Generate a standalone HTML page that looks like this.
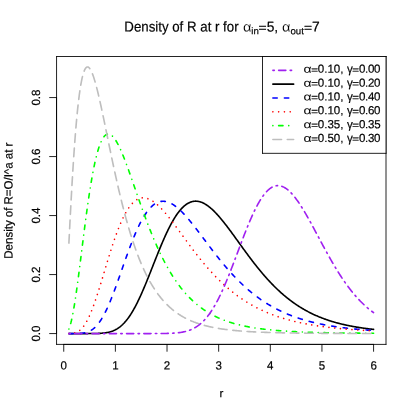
<!DOCTYPE html>
<html><head><meta charset="utf-8"><title>Density of R</title>
<style>html,body{margin:0;padding:0;background:#fff;width:415px;height:415px;overflow:hidden}svg{display:block}</style>
</head><body>
<svg width="415" height="415" viewBox="0 0 415 415" style="position:absolute;left:0;top:0">
<rect width="415" height="415" fill="#fff"/>
<g fill="none" stroke-width="1.620" stroke-linecap="round" stroke-linejoin="round">
<path d="M68.90 333.57 L69.42 333.57 L69.94 333.57 L70.45 333.57 L70.97 333.57 L71.49 333.57 L72.00 333.57 L72.52 333.57 L73.04 333.57 L73.55 333.57 L74.07 333.57 L74.58 333.57 L75.10 333.57 L75.62 333.57 L76.13 333.57 L76.65 333.57 L77.17 333.57 L77.68 333.57 L78.20 333.57 L78.72 333.57 L79.23 333.57 L79.75 333.57 L80.26 333.57 L80.78 333.57 L81.30 333.57 L81.81 333.57 L82.33 333.57 L82.85 333.57 L83.36 333.57 L83.88 333.57 L84.40 333.57 L84.91 333.57 L85.43 333.57 L85.95 333.57 L86.46 333.57 L86.98 333.57 L87.49 333.57 L88.01 333.57 L88.53 333.56 L89.04 333.56 L89.56 333.56 L90.08 333.56 L90.59 333.56 L91.11 333.55 L91.63 333.55 L92.14 333.55 L92.66 333.54 L93.17 333.54 L93.69 333.53 L94.21 333.52 L94.72 333.52 L95.24 333.51 L95.76 333.50 L96.27 333.48 L96.79 333.47 L97.31 333.46 L97.82 333.44 L98.34 333.42 L98.86 333.40 L99.37 333.37 L99.89 333.35 L100.40 333.32 L100.92 333.29 L101.44 333.25 L101.95 333.21 L102.47 333.17 L102.99 333.12 L103.50 333.07 L104.02 333.01 L104.54 332.95 L105.05 332.88 L105.57 332.81 L106.08 332.73 L106.60 332.64 L107.12 332.55 L107.63 332.45 L108.15 332.34 L108.67 332.22 L109.18 332.10 L109.70 331.96 L110.22 331.82 L110.73 331.67 L111.25 331.50 L111.77 331.33 L112.28 331.15 L112.80 330.95 L113.31 330.74 L113.83 330.52 L114.35 330.29 L114.86 330.05 L115.38 329.79 L115.90 329.51 L116.41 329.23 L116.93 328.93 L117.45 328.61 L117.96 328.28 L118.48 327.93 L118.99 327.56 L119.51 327.18 L120.03 326.79 L120.54 326.37 L121.06 325.94 L121.58 325.49 L122.09 325.02 L122.61 324.54 L123.13 324.03 L123.64 323.51 L124.16 322.97 L124.68 322.40 L125.19 321.82 L125.71 321.22 L126.22 320.60 L126.74 319.96 L127.26 319.30 L127.77 318.62 L128.29 317.93 L128.81 317.21 L129.32 316.47 L129.84 315.71 L130.36 314.93 L130.87 314.13 L131.39 313.31 L131.90 312.48 L132.42 311.62 L132.94 310.74 L133.45 309.85 L133.97 308.93 L134.49 308.00 L135.00 307.05 L135.52 306.08 L136.04 305.09 L136.55 304.09 L137.07 303.07 L137.59 302.03 L138.10 300.97 L138.62 299.90 L139.13 298.81 L139.65 297.71 L140.17 296.59 L140.68 295.46 L141.20 294.32 L141.72 293.16 L142.23 291.99 L142.75 290.80 L143.27 289.61 L143.78 288.40 L144.30 287.18 L144.81 285.95 L145.33 284.71 L145.85 283.47 L146.36 282.21 L146.88 280.95 L147.40 279.68 L147.91 278.40 L148.43 277.11 L148.95 275.83 L149.46 274.53 L149.98 273.23 L150.50 271.93 L151.01 270.63 L151.53 269.32 L152.04 268.01 L152.56 266.70 L153.08 265.39 L153.59 264.08 L154.11 262.77 L154.63 261.47 L155.14 260.16 L155.66 258.86 L156.18 257.56 L156.69 256.27 L157.21 254.98 L157.72 253.69 L158.24 252.41 L158.76 251.14 L159.27 249.88 L159.79 248.62 L160.31 247.37 L160.82 246.13 L161.34 244.90 L161.86 243.68 L162.37 242.47 L162.89 241.27 L163.41 240.08 L163.92 238.90 L164.44 237.73 L164.95 236.58 L165.47 235.44 L165.99 234.32 L166.50 233.21 L167.02 232.11 L167.54 231.03 L168.05 229.97 L168.57 228.92 L169.09 227.88 L169.60 226.87 L170.12 225.87 L170.63 224.88 L171.15 223.92 L171.67 222.97 L172.18 222.04 L172.70 221.13 L173.22 220.24 L173.73 219.36 L174.25 218.51 L174.77 217.67 L175.28 216.86 L175.80 216.06 L176.32 215.29 L176.83 214.53 L177.35 213.80 L177.86 213.08 L178.38 212.39 L178.90 211.71 L179.41 211.06 L179.93 210.43 L180.45 209.82 L180.96 209.23 L181.48 208.66 L182.00 208.11 L182.51 207.59 L183.03 207.08 L183.54 206.60 L184.06 206.13 L184.58 205.69 L185.09 205.27 L185.61 204.87 L186.13 204.49 L186.64 204.14 L187.16 203.80 L187.68 203.48 L188.19 203.19 L188.71 202.91 L189.23 202.66 L189.74 202.43 L190.26 202.22 L190.77 202.02 L191.29 201.85 L191.81 201.70 L192.32 201.57 L192.84 201.45 L193.36 201.36 L193.87 201.29 L194.39 201.23 L194.91 201.19 L195.42 201.18 L195.94 201.18 L196.45 201.20 L196.97 201.24 L197.49 201.29 L198.00 201.37 L198.52 201.46 L199.04 201.57 L199.55 201.69 L200.07 201.84 L200.59 202.00 L201.10 202.17 L201.62 202.36 L202.14 202.57 L202.65 202.80 L203.17 203.04 L203.68 203.29 L204.20 203.56 L204.72 203.84 L205.23 204.14 L205.75 204.46 L206.27 204.78 L206.78 205.12 L207.30 205.48 L207.82 205.84 L208.33 206.22 L208.85 206.61 L209.36 207.02 L209.88 207.44 L210.40 207.86 L210.91 208.31 L211.43 208.76 L211.95 209.22 L212.46 209.69 L212.98 210.18 L213.50 210.67 L214.01 211.17 L214.53 211.69 L215.05 212.21 L215.56 212.74 L216.08 213.29 L216.59 213.84 L217.11 214.40 L217.63 214.96 L218.14 215.54 L218.66 216.12 L219.18 216.71 L219.69 217.31 L220.21 217.91 L220.73 218.52 L221.24 219.14 L221.76 219.76 L222.27 220.39 L222.79 221.03 L223.31 221.67 L223.82 222.32 L224.34 222.97 L224.86 223.63 L225.37 224.29 L225.89 224.95 L226.41 225.62 L226.92 226.30 L227.44 226.98 L227.96 227.66 L228.47 228.34 L228.99 229.03 L229.50 229.72 L230.02 230.42 L230.54 231.11 L231.05 231.81 L231.57 232.52 L232.09 233.22 L232.60 233.93 L233.12 234.63 L233.64 235.34 L234.15 236.05 L234.67 236.76 L235.18 237.48 L235.70 238.19 L236.22 238.91 L236.73 239.62 L237.25 240.34 L237.77 241.05 L238.28 241.77 L238.80 242.48 L239.32 243.20 L239.83 243.92 L240.35 244.63 L240.87 245.35 L241.38 246.06 L241.90 246.77 L242.41 247.49 L242.93 248.20 L243.45 248.91 L243.96 249.62 L244.48 250.33 L245.00 251.03 L245.51 251.74 L246.03 252.44 L246.55 253.14 L247.06 253.84 L247.58 254.54 L248.09 255.23 L248.61 255.93 L249.13 256.62 L249.64 257.31 L250.16 257.99 L250.68 258.68 L251.19 259.36 L251.71 260.04 L252.23 260.71 L252.74 261.39 L253.26 262.06 L253.78 262.72 L254.29 263.39 L254.81 264.05 L255.32 264.71 L255.84 265.36 L256.36 266.01 L256.87 266.66 L257.39 267.30 L257.91 267.95 L258.42 268.58 L258.94 269.22 L259.46 269.85 L259.97 270.48 L260.49 271.10 L261.00 271.72 L261.52 272.34 L262.04 272.95 L262.55 273.56 L263.07 274.16 L263.59 274.77 L264.10 275.36 L264.62 275.96 L265.14 276.55 L265.65 277.13 L266.17 277.71 L266.69 278.29 L267.20 278.87 L267.72 279.43 L268.23 280.00 L268.75 280.56 L269.27 281.12 L269.78 281.67 L270.30 282.22 L270.82 282.77 L271.33 283.31 L271.85 283.85 L272.37 284.38 L272.88 284.91 L273.40 285.43 L273.91 285.95 L274.43 286.47 L274.95 286.98 L275.46 287.49 L275.98 287.99 L276.50 288.49 L277.01 288.99 L277.53 289.48 L278.05 289.97 L278.56 290.45 L279.08 290.93 L279.60 291.41 L280.11 291.88 L280.63 292.34 L281.14 292.81 L281.66 293.27 L282.18 293.72 L282.69 294.17 L283.21 294.62 L283.73 295.06 L284.24 295.50 L284.76 295.93 L285.28 296.36 L285.79 296.79 L286.31 297.21 L286.82 297.63 L287.34 298.04 L287.86 298.45 L288.37 298.86 L288.89 299.26 L289.41 299.66 L289.92 300.06 L290.44 300.45 L290.96 300.84 L291.47 301.22 L291.99 301.60 L292.51 301.98 L293.02 302.35 L293.54 302.72 L294.05 303.08 L294.57 303.44 L295.09 303.80 L295.60 304.16 L296.12 304.51 L296.64 304.85 L297.15 305.20 L297.67 305.54 L298.19 305.87 L298.70 306.21 L299.22 306.53 L299.73 306.86 L300.25 307.18 L300.77 307.50 L301.28 307.82 L301.80 308.13 L302.32 308.44 L302.83 308.74 L303.35 309.05 L303.87 309.35 L304.38 309.64 L304.90 309.93 L305.42 310.22 L305.93 310.51 L306.45 310.79 L306.96 311.07 L307.48 311.35 L308.00 311.63 L308.51 311.90 L309.03 312.16 L309.55 312.43 L310.06 312.69 L310.58 312.95 L311.10 313.21 L311.61 313.46 L312.13 313.71 L312.64 313.96 L313.16 314.20 L313.68 314.45 L314.19 314.68 L314.71 314.92 L315.23 315.16 L315.74 315.39 L316.26 315.62 L316.78 315.84 L317.29 316.06 L317.81 316.29 L318.33 316.50 L318.84 316.72 L319.36 316.93 L319.87 317.14 L320.39 317.35 L320.91 317.56 L321.42 317.76 L321.94 317.96 L322.46 318.16 L322.97 318.36 L323.49 318.55 L324.01 318.74 L324.52 318.93 L325.04 319.12 L325.55 319.30 L326.07 319.49 L326.59 319.67 L327.10 319.84 L327.62 320.02 L328.14 320.19 L328.65 320.37 L329.17 320.54 L329.69 320.70 L330.20 320.87 L330.72 321.03 L331.24 321.20 L331.75 321.36 L332.27 321.51 L332.78 321.67 L333.30 321.82 L333.82 321.98 L334.33 322.13 L334.85 322.27 L335.37 322.42 L335.88 322.57 L336.40 322.71 L336.92 322.85 L337.43 322.99 L337.95 323.13 L338.46 323.26 L338.98 323.40 L339.50 323.53 L340.01 323.66 L340.53 323.79 L341.05 323.92 L341.56 324.04 L342.08 324.17 L342.60 324.29 L343.11 324.41 L343.63 324.53 L344.15 324.65 L344.66 324.77 L345.18 324.88 L345.69 325.00 L346.21 325.11 L346.73 325.22 L347.24 325.33 L347.76 325.44 L348.28 325.55 L348.79 325.65 L349.31 325.76 L349.83 325.86 L350.34 325.96 L350.86 326.06 L351.37 326.16 L351.89 326.26 L352.41 326.36 L352.92 326.45 L353.44 326.55 L353.96 326.64 L354.47 326.73 L354.99 326.82 L355.51 326.91 L356.02 327.00 L356.54 327.09 L357.06 327.17 L357.57 327.26 L358.09 327.34 L358.60 327.42 L359.12 327.50 L359.64 327.58 L360.15 327.66 L360.67 327.74 L361.19 327.82 L361.70 327.90 L362.22 327.97 L362.74 328.05 L363.25 328.12 L363.77 328.19 L364.28 328.26 L364.80 328.33 L365.32 328.40 L365.83 328.47 L366.35 328.54 L366.87 328.61 L367.38 328.67 L367.90 328.74 L368.42 328.80 L368.93 328.87 L369.45 328.93 L369.97 328.99 L370.48 329.05 L371.00 329.11 L371.51 329.17 L372.03 329.23 L372.55 329.29 L373.06 329.35 L373.58 329.40" stroke="#000000"/>
<path d="M68.90 333.57 L69.42 333.57 L69.94 333.57 L70.45 333.57 L70.97 333.57 L71.49 333.57 L72.00 333.57 L72.52 333.57 L73.04 333.57 L73.55 333.56 L74.07 333.56 L74.58 333.56 L75.10 333.55 L75.62 333.55 L76.13 333.54 L76.65 333.53 L77.17 333.52 L77.68 333.50 L78.20 333.49 L78.72 333.47 L79.23 333.44 L79.75 333.41 L80.26 333.38 L80.78 333.34 L81.30 333.30 L81.81 333.25 L82.33 333.19 L82.85 333.12 L83.36 333.04 L83.88 332.96 L84.40 332.86 L84.91 332.76 L85.43 332.64 L85.95 332.51 L86.46 332.36 L86.98 332.20 L87.49 332.03 L88.01 331.84 L88.53 331.64 L89.04 331.41 L89.56 331.17 L90.08 330.91 L90.59 330.63 L91.11 330.33 L91.63 330.01 L92.14 329.66 L92.66 329.30 L93.17 328.91 L93.69 328.49 L94.21 328.06 L94.72 327.59 L95.24 327.11 L95.76 326.59 L96.27 326.05 L96.79 325.49 L97.31 324.89 L97.82 324.27 L98.34 323.63 L98.86 322.95 L99.37 322.25 L99.89 321.52 L100.40 320.76 L100.92 319.97 L101.44 319.16 L101.95 318.32 L102.47 317.45 L102.99 316.55 L103.50 315.63 L104.02 314.68 L104.54 313.70 L105.05 312.70 L105.57 311.67 L106.08 310.61 L106.60 309.53 L107.12 308.43 L107.63 307.30 L108.15 306.15 L108.67 304.97 L109.18 303.78 L109.70 302.56 L110.22 301.32 L110.73 300.06 L111.25 298.78 L111.77 297.49 L112.28 296.17 L112.80 294.84 L113.31 293.50 L113.83 292.14 L114.35 290.76 L114.86 289.37 L115.38 287.97 L115.90 286.56 L116.41 285.13 L116.93 283.70 L117.45 282.26 L117.96 280.81 L118.48 279.35 L118.99 277.89 L119.51 276.42 L120.03 274.95 L120.54 273.48 L121.06 272.00 L121.58 270.52 L122.09 269.04 L122.61 267.56 L123.13 266.09 L123.64 264.61 L124.16 263.14 L124.68 261.68 L125.19 260.21 L125.71 258.76 L126.22 257.31 L126.74 255.86 L127.26 254.43 L127.77 253.01 L128.29 251.59 L128.81 250.19 L129.32 248.79 L129.84 247.41 L130.36 246.04 L130.87 244.69 L131.39 243.34 L131.90 242.02 L132.42 240.70 L132.94 239.41 L133.45 238.13 L133.97 236.87 L134.49 235.62 L135.00 234.39 L135.52 233.18 L136.04 231.99 L136.55 230.82 L137.07 229.67 L137.59 228.54 L138.10 227.43 L138.62 226.34 L139.13 225.27 L139.65 224.23 L140.17 223.20 L140.68 222.20 L141.20 221.22 L141.72 220.26 L142.23 219.33 L142.75 218.42 L143.27 217.53 L143.78 216.67 L144.30 215.83 L144.81 215.01 L145.33 214.22 L145.85 213.45 L146.36 212.70 L146.88 211.98 L147.40 211.28 L147.91 210.61 L148.43 209.96 L148.95 209.34 L149.46 208.74 L149.98 208.16 L150.50 207.61 L151.01 207.08 L151.53 206.58 L152.04 206.10 L152.56 205.64 L153.08 205.21 L153.59 204.80 L154.11 204.41 L154.63 204.05 L155.14 203.71 L155.66 203.39 L156.18 203.10 L156.69 202.83 L157.21 202.58 L157.72 202.35 L158.24 202.15 L158.76 201.97 L159.27 201.81 L159.79 201.67 L160.31 201.55 L160.82 201.45 L161.34 201.37 L161.86 201.32 L162.37 201.28 L162.89 201.27 L163.41 201.27 L163.92 201.29 L164.44 201.33 L164.95 201.39 L165.47 201.47 L165.99 201.57 L166.50 201.69 L167.02 201.82 L167.54 201.97 L168.05 202.14 L168.57 202.32 L169.09 202.52 L169.60 202.74 L170.12 202.97 L170.63 203.22 L171.15 203.48 L171.67 203.76 L172.18 204.06 L172.70 204.36 L173.22 204.69 L173.73 205.02 L174.25 205.37 L174.77 205.73 L175.28 206.11 L175.80 206.50 L176.32 206.90 L176.83 207.31 L177.35 207.73 L177.86 208.17 L178.38 208.61 L178.90 209.07 L179.41 209.54 L179.93 210.02 L180.45 210.50 L180.96 211.00 L181.48 211.51 L182.00 212.02 L182.51 212.55 L183.03 213.08 L183.54 213.62 L184.06 214.17 L184.58 214.73 L185.09 215.30 L185.61 215.87 L186.13 216.45 L186.64 217.03 L187.16 217.63 L187.68 218.23 L188.19 218.83 L188.71 219.44 L189.23 220.06 L189.74 220.68 L190.26 221.30 L190.77 221.94 L191.29 222.57 L191.81 223.21 L192.32 223.86 L192.84 224.51 L193.36 225.16 L193.87 225.81 L194.39 226.47 L194.91 227.13 L195.42 227.80 L195.94 228.47 L196.45 229.14 L196.97 229.81 L197.49 230.49 L198.00 231.16 L198.52 231.84 L199.04 232.52 L199.55 233.21 L200.07 233.89 L200.59 234.57 L201.10 235.26 L201.62 235.95 L202.14 236.63 L202.65 237.32 L203.17 238.01 L203.68 238.70 L204.20 239.39 L204.72 240.08 L205.23 240.77 L205.75 241.45 L206.27 242.14 L206.78 242.83 L207.30 243.52 L207.82 244.20 L208.33 244.89 L208.85 245.57 L209.36 246.26 L209.88 246.94 L210.40 247.62 L210.91 248.30 L211.43 248.98 L211.95 249.65 L212.46 250.33 L212.98 251.00 L213.50 251.67 L214.01 252.34 L214.53 253.01 L215.05 253.67 L215.56 254.33 L216.08 254.99 L216.59 255.65 L217.11 256.31 L217.63 256.96 L218.14 257.61 L218.66 258.26 L219.18 258.90 L219.69 259.55 L220.21 260.19 L220.73 260.82 L221.24 261.46 L221.76 262.09 L222.27 262.72 L222.79 263.34 L223.31 263.96 L223.82 264.58 L224.34 265.20 L224.86 265.81 L225.37 266.42 L225.89 267.02 L226.41 267.63 L226.92 268.23 L227.44 268.82 L227.96 269.41 L228.47 270.00 L228.99 270.59 L229.50 271.17 L230.02 271.75 L230.54 272.32 L231.05 272.89 L231.57 273.46 L232.09 274.02 L232.60 274.58 L233.12 275.14 L233.64 275.69 L234.15 276.24 L234.67 276.79 L235.18 277.33 L235.70 277.86 L236.22 278.40 L236.73 278.93 L237.25 279.46 L237.77 279.98 L238.28 280.50 L238.80 281.01 L239.32 281.52 L239.83 282.03 L240.35 282.53 L240.87 283.03 L241.38 283.53 L241.90 284.02 L242.41 284.51 L242.93 285.00 L243.45 285.48 L243.96 285.96 L244.48 286.43 L245.00 286.90 L245.51 287.37 L246.03 287.83 L246.55 288.29 L247.06 288.74 L247.58 289.19 L248.09 289.64 L248.61 290.08 L249.13 290.52 L249.64 290.96 L250.16 291.39 L250.68 291.82 L251.19 292.25 L251.71 292.67 L252.23 293.09 L252.74 293.50 L253.26 293.91 L253.78 294.32 L254.29 294.73 L254.81 295.13 L255.32 295.52 L255.84 295.92 L256.36 296.31 L256.87 296.69 L257.39 297.07 L257.91 297.45 L258.42 297.83 L258.94 298.20 L259.46 298.57 L259.97 298.94 L260.49 299.30 L261.00 299.66 L261.52 300.01 L262.04 300.37 L262.55 300.72 L263.07 301.06 L263.59 301.40 L264.10 301.74 L264.62 302.08 L265.14 302.41 L265.65 302.74 L266.17 303.07 L266.69 303.39 L267.20 303.71 L267.72 304.03 L268.23 304.35 L268.75 304.66 L269.27 304.97 L269.78 305.27 L270.30 305.57 L270.82 305.87 L271.33 306.17 L271.85 306.46 L272.37 306.75 L272.88 307.04 L273.40 307.33 L273.91 307.61 L274.43 307.89 L274.95 308.17 L275.46 308.44 L275.98 308.71 L276.50 308.98 L277.01 309.24 L277.53 309.51 L278.05 309.77 L278.56 310.03 L279.08 310.28 L279.60 310.53 L280.11 310.78 L280.63 311.03 L281.14 311.28 L281.66 311.52 L282.18 311.76 L282.69 311.99 L283.21 312.23 L283.73 312.46 L284.24 312.69 L284.76 312.92 L285.28 313.15 L285.79 313.37 L286.31 313.59 L286.82 313.81 L287.34 314.02 L287.86 314.24 L288.37 314.45 L288.89 314.66 L289.41 314.87 L289.92 315.07 L290.44 315.28 L290.96 315.48 L291.47 315.67 L291.99 315.87 L292.51 316.07 L293.02 316.26 L293.54 316.45 L294.05 316.64 L294.57 316.82 L295.09 317.01 L295.60 317.19 L296.12 317.37 L296.64 317.55 L297.15 317.73 L297.67 317.90 L298.19 318.07 L298.70 318.24 L299.22 318.41 L299.73 318.58 L300.25 318.75 L300.77 318.91 L301.28 319.07 L301.80 319.23 L302.32 319.39 L302.83 319.55 L303.35 319.70 L303.87 319.86 L304.38 320.01 L304.90 320.16 L305.42 320.31 L305.93 320.45 L306.45 320.60 L306.96 320.74 L307.48 320.89 L308.00 321.03 L308.51 321.17 L309.03 321.30 L309.55 321.44 L310.06 321.57 L310.58 321.71 L311.10 321.84 L311.61 321.97 L312.13 322.10 L312.64 322.22 L313.16 322.35 L313.68 322.47 L314.19 322.60 L314.71 322.72 L315.23 322.84 L315.74 322.96 L316.26 323.08 L316.78 323.19 L317.29 323.31 L317.81 323.42 L318.33 323.54 L318.84 323.65 L319.36 323.76 L319.87 323.87 L320.39 323.97 L320.91 324.08 L321.42 324.19 L321.94 324.29 L322.46 324.39 L322.97 324.50 L323.49 324.60 L324.01 324.70 L324.52 324.79 L325.04 324.89 L325.55 324.99 L326.07 325.08 L326.59 325.18 L327.10 325.27 L327.62 325.36 L328.14 325.45 L328.65 325.54 L329.17 325.63 L329.69 325.72 L330.20 325.81 L330.72 325.89 L331.24 325.98 L331.75 326.06 L332.27 326.15 L332.78 326.23 L333.30 326.31 L333.82 326.39 L334.33 326.47 L334.85 326.55 L335.37 326.63 L335.88 326.70 L336.40 326.78 L336.92 326.86 L337.43 326.93 L337.95 327.00 L338.46 327.08 L338.98 327.15 L339.50 327.22 L340.01 327.29 L340.53 327.36 L341.05 327.43 L341.56 327.50 L342.08 327.56 L342.60 327.63 L343.11 327.70 L343.63 327.76 L344.15 327.82 L344.66 327.89 L345.18 327.95 L345.69 328.01 L346.21 328.07 L346.73 328.14 L347.24 328.20 L347.76 328.25 L348.28 328.31 L348.79 328.37 L349.31 328.43 L349.83 328.49 L350.34 328.54 L350.86 328.60 L351.37 328.65 L351.89 328.71 L352.41 328.76 L352.92 328.81 L353.44 328.86 L353.96 328.92 L354.47 328.97 L354.99 329.02 L355.51 329.07 L356.02 329.12 L356.54 329.17 L357.06 329.22 L357.57 329.26 L358.09 329.31 L358.60 329.36 L359.12 329.40 L359.64 329.45 L360.15 329.49 L360.67 329.54 L361.19 329.58 L361.70 329.63 L362.22 329.67 L362.74 329.71 L363.25 329.76 L363.77 329.80 L364.28 329.84 L364.80 329.88 L365.32 329.92 L365.83 329.96 L366.35 330.00 L366.87 330.04 L367.38 330.08 L367.90 330.11 L368.42 330.15 L368.93 330.19 L369.45 330.23 L369.97 330.26 L370.48 330.30 L371.00 330.33 L371.51 330.37 L372.03 330.40 L372.55 330.44 L373.06 330.47 L373.58 330.51" stroke="#0000FF" stroke-dasharray="4.323,7.205"/>
<path d="M68.90 333.55 L69.42 333.54 L69.94 333.52 L70.45 333.50 L70.97 333.47 L71.49 333.43 L72.00 333.38 L72.52 333.32 L73.04 333.25 L73.55 333.16 L74.07 333.06 L74.58 332.94 L75.10 332.79 L75.62 332.63 L76.13 332.44 L76.65 332.23 L77.17 331.99 L77.68 331.73 L78.20 331.43 L78.72 331.10 L79.23 330.75 L79.75 330.35 L80.26 329.93 L80.78 329.46 L81.30 328.96 L81.81 328.43 L82.33 327.85 L82.85 327.23 L83.36 326.58 L83.88 325.88 L84.40 325.15 L84.91 324.37 L85.43 323.55 L85.95 322.70 L86.46 321.80 L86.98 320.86 L87.49 319.88 L88.01 318.86 L88.53 317.80 L89.04 316.70 L89.56 315.57 L90.08 314.39 L90.59 313.18 L91.11 311.94 L91.63 310.66 L92.14 309.34 L92.66 307.99 L93.17 306.62 L93.69 305.21 L94.21 303.77 L94.72 302.30 L95.24 300.81 L95.76 299.29 L96.27 297.75 L96.79 296.18 L97.31 294.60 L97.82 292.99 L98.34 291.37 L98.86 289.73 L99.37 288.07 L99.89 286.40 L100.40 284.72 L100.92 283.03 L101.44 281.33 L101.95 279.62 L102.47 277.91 L102.99 276.19 L103.50 274.46 L104.02 272.74 L104.54 271.01 L105.05 269.28 L105.57 267.56 L106.08 265.84 L106.60 264.12 L107.12 262.41 L107.63 260.71 L108.15 259.02 L108.67 257.33 L109.18 255.66 L109.70 253.99 L110.22 252.34 L110.73 250.71 L111.25 249.09 L111.77 247.48 L112.28 245.90 L112.80 244.33 L113.31 242.77 L113.83 241.24 L114.35 239.73 L114.86 238.24 L115.38 236.77 L115.90 235.32 L116.41 233.90 L116.93 232.50 L117.45 231.12 L117.96 229.77 L118.48 228.45 L118.99 227.15 L119.51 225.88 L120.03 224.63 L120.54 223.41 L121.06 222.22 L121.58 221.05 L122.09 219.92 L122.61 218.81 L123.13 217.73 L123.64 216.68 L124.16 215.66 L124.68 214.67 L125.19 213.70 L125.71 212.77 L126.22 211.87 L126.74 210.99 L127.26 210.15 L127.77 209.33 L128.29 208.54 L128.81 207.78 L129.32 207.06 L129.84 206.36 L130.36 205.69 L130.87 205.05 L131.39 204.44 L131.90 203.85 L132.42 203.30 L132.94 202.77 L133.45 202.28 L133.97 201.81 L134.49 201.36 L135.00 200.95 L135.52 200.56 L136.04 200.20 L136.55 199.87 L137.07 199.56 L137.59 199.28 L138.10 199.03 L138.62 198.80 L139.13 198.59 L139.65 198.42 L140.17 198.26 L140.68 198.13 L141.20 198.03 L141.72 197.94 L142.23 197.88 L142.75 197.85 L143.27 197.83 L143.78 197.84 L144.30 197.87 L144.81 197.92 L145.33 197.99 L145.85 198.09 L146.36 198.20 L146.88 198.33 L147.40 198.49 L147.91 198.66 L148.43 198.85 L148.95 199.06 L149.46 199.28 L149.98 199.53 L150.50 199.79 L151.01 200.07 L151.53 200.36 L152.04 200.67 L152.56 201.00 L153.08 201.34 L153.59 201.70 L154.11 202.07 L154.63 202.46 L155.14 202.86 L155.66 203.27 L156.18 203.69 L156.69 204.13 L157.21 204.58 L157.72 205.05 L158.24 205.52 L158.76 206.01 L159.27 206.51 L159.79 207.01 L160.31 207.53 L160.82 208.06 L161.34 208.60 L161.86 209.14 L162.37 209.70 L162.89 210.27 L163.41 210.84 L163.92 211.42 L164.44 212.01 L164.95 212.61 L165.47 213.21 L165.99 213.82 L166.50 214.44 L167.02 215.06 L167.54 215.69 L168.05 216.33 L168.57 216.97 L169.09 217.62 L169.60 218.27 L170.12 218.93 L170.63 219.59 L171.15 220.25 L171.67 220.92 L172.18 221.60 L172.70 222.27 L173.22 222.95 L173.73 223.64 L174.25 224.32 L174.77 225.01 L175.28 225.70 L175.80 226.40 L176.32 227.10 L176.83 227.79 L177.35 228.49 L177.86 229.20 L178.38 229.90 L178.90 230.60 L179.41 231.31 L179.93 232.01 L180.45 232.72 L180.96 233.43 L181.48 234.14 L182.00 234.84 L182.51 235.55 L183.03 236.26 L183.54 236.97 L184.06 237.67 L184.58 238.38 L185.09 239.09 L185.61 239.79 L186.13 240.50 L186.64 241.20 L187.16 241.90 L187.68 242.61 L188.19 243.31 L188.71 244.00 L189.23 244.70 L189.74 245.40 L190.26 246.09 L190.77 246.78 L191.29 247.47 L191.81 248.16 L192.32 248.84 L192.84 249.53 L193.36 250.21 L193.87 250.89 L194.39 251.56 L194.91 252.24 L195.42 252.91 L195.94 253.58 L196.45 254.24 L196.97 254.90 L197.49 255.56 L198.00 256.22 L198.52 256.88 L199.04 257.53 L199.55 258.17 L200.07 258.82 L200.59 259.46 L201.10 260.10 L201.62 260.73 L202.14 261.37 L202.65 262.00 L203.17 262.62 L203.68 263.24 L204.20 263.86 L204.72 264.48 L205.23 265.09 L205.75 265.69 L206.27 266.30 L206.78 266.90 L207.30 267.50 L207.82 268.09 L208.33 268.68 L208.85 269.26 L209.36 269.85 L209.88 270.42 L210.40 271.00 L210.91 271.57 L211.43 272.14 L211.95 272.70 L212.46 273.26 L212.98 273.81 L213.50 274.37 L214.01 274.91 L214.53 275.46 L215.05 276.00 L215.56 276.53 L216.08 277.07 L216.59 277.60 L217.11 278.12 L217.63 278.64 L218.14 279.16 L218.66 279.67 L219.18 280.18 L219.69 280.69 L220.21 281.19 L220.73 281.69 L221.24 282.18 L221.76 282.67 L222.27 283.16 L222.79 283.64 L223.31 284.12 L223.82 284.59 L224.34 285.06 L224.86 285.53 L225.37 285.99 L225.89 286.45 L226.41 286.91 L226.92 287.36 L227.44 287.81 L227.96 288.25 L228.47 288.69 L228.99 289.13 L229.50 289.56 L230.02 289.99 L230.54 290.42 L231.05 290.84 L231.57 291.26 L232.09 291.68 L232.60 292.09 L233.12 292.50 L233.64 292.90 L234.15 293.30 L234.67 293.70 L235.18 294.10 L235.70 294.49 L236.22 294.87 L236.73 295.26 L237.25 295.64 L237.77 296.01 L238.28 296.39 L238.80 296.76 L239.32 297.13 L239.83 297.49 L240.35 297.85 L240.87 298.21 L241.38 298.56 L241.90 298.91 L242.41 299.26 L242.93 299.60 L243.45 299.94 L243.96 300.28 L244.48 300.61 L245.00 300.95 L245.51 301.27 L246.03 301.60 L246.55 301.92 L247.06 302.24 L247.58 302.56 L248.09 302.87 L248.61 303.18 L249.13 303.49 L249.64 303.79 L250.16 304.09 L250.68 304.39 L251.19 304.69 L251.71 304.98 L252.23 305.27 L252.74 305.56 L253.26 305.84 L253.78 306.12 L254.29 306.40 L254.81 306.68 L255.32 306.95 L255.84 307.22 L256.36 307.49 L256.87 307.76 L257.39 308.02 L257.91 308.28 L258.42 308.54 L258.94 308.79 L259.46 309.05 L259.97 309.30 L260.49 309.55 L261.00 309.79 L261.52 310.03 L262.04 310.27 L262.55 310.51 L263.07 310.75 L263.59 310.98 L264.10 311.21 L264.62 311.44 L265.14 311.67 L265.65 311.89 L266.17 312.11 L266.69 312.33 L267.20 312.55 L267.72 312.77 L268.23 312.98 L268.75 313.19 L269.27 313.40 L269.78 313.61 L270.30 313.81 L270.82 314.01 L271.33 314.22 L271.85 314.41 L272.37 314.61 L272.88 314.81 L273.40 315.00 L273.91 315.19 L274.43 315.38 L274.95 315.56 L275.46 315.75 L275.98 315.93 L276.50 316.11 L277.01 316.29 L277.53 316.47 L278.05 316.65 L278.56 316.82 L279.08 316.99 L279.60 317.16 L280.11 317.33 L280.63 317.50 L281.14 317.66 L281.66 317.83 L282.18 317.99 L282.69 318.15 L283.21 318.31 L283.73 318.46 L284.24 318.62 L284.76 318.77 L285.28 318.92 L285.79 319.07 L286.31 319.22 L286.82 319.37 L287.34 319.51 L287.86 319.66 L288.37 319.80 L288.89 319.94 L289.41 320.08 L289.92 320.22 L290.44 320.36 L290.96 320.49 L291.47 320.63 L291.99 320.76 L292.51 320.89 L293.02 321.02 L293.54 321.15 L294.05 321.28 L294.57 321.40 L295.09 321.53 L295.60 321.65 L296.12 321.77 L296.64 321.89 L297.15 322.01 L297.67 322.13 L298.19 322.25 L298.70 322.36 L299.22 322.48 L299.73 322.59 L300.25 322.70 L300.77 322.81 L301.28 322.92 L301.80 323.03 L302.32 323.14 L302.83 323.25 L303.35 323.35 L303.87 323.46 L304.38 323.56 L304.90 323.66 L305.42 323.76 L305.93 323.86 L306.45 323.96 L306.96 324.06 L307.48 324.16 L308.00 324.25 L308.51 324.35 L309.03 324.44 L309.55 324.53 L310.06 324.62 L310.58 324.72 L311.10 324.81 L311.61 324.89 L312.13 324.98 L312.64 325.07 L313.16 325.16 L313.68 325.24 L314.19 325.33 L314.71 325.41 L315.23 325.49 L315.74 325.57 L316.26 325.65 L316.78 325.73 L317.29 325.81 L317.81 325.89 L318.33 325.97 L318.84 326.05 L319.36 326.12 L319.87 326.20 L320.39 326.27 L320.91 326.35 L321.42 326.42 L321.94 326.49 L322.46 326.56 L322.97 326.63 L323.49 326.70 L324.01 326.77 L324.52 326.84 L325.04 326.91 L325.55 326.97 L326.07 327.04 L326.59 327.11 L327.10 327.17 L327.62 327.23 L328.14 327.30 L328.65 327.36 L329.17 327.42 L329.69 327.48 L330.20 327.55 L330.72 327.61 L331.24 327.67 L331.75 327.72 L332.27 327.78 L332.78 327.84 L333.30 327.90 L333.82 327.95 L334.33 328.01 L334.85 328.07 L335.37 328.12 L335.88 328.18 L336.40 328.23 L336.92 328.28 L337.43 328.33 L337.95 328.39 L338.46 328.44 L338.98 328.49 L339.50 328.54 L340.01 328.59 L340.53 328.64 L341.05 328.69 L341.56 328.74 L342.08 328.78 L342.60 328.83 L343.11 328.88 L343.63 328.92 L344.15 328.97 L344.66 329.02 L345.18 329.06 L345.69 329.10 L346.21 329.15 L346.73 329.19 L347.24 329.24 L347.76 329.28 L348.28 329.32 L348.79 329.36 L349.31 329.40 L349.83 329.44 L350.34 329.49 L350.86 329.53 L351.37 329.56 L351.89 329.60 L352.41 329.64 L352.92 329.68 L353.44 329.72 L353.96 329.76 L354.47 329.79 L354.99 329.83 L355.51 329.87 L356.02 329.90 L356.54 329.94 L357.06 329.97 L357.57 330.01 L358.09 330.04 L358.60 330.08 L359.12 330.11 L359.64 330.15 L360.15 330.18 L360.67 330.21 L361.19 330.25 L361.70 330.28 L362.22 330.31 L362.74 330.34 L363.25 330.37 L363.77 330.40 L364.28 330.43 L364.80 330.46 L365.32 330.49 L365.83 330.52 L366.35 330.55 L366.87 330.58 L367.38 330.61 L367.90 330.64 L368.42 330.67 L368.93 330.70 L369.45 330.72 L369.97 330.75 L370.48 330.78 L371.00 330.80 L371.51 330.83 L372.03 330.86 L372.55 330.88 L373.06 330.91 L373.58 330.93" stroke="#FF0000" stroke-dasharray="0.010,5.764"/>
<path d="M68.90 328.98 L69.42 327.63 L69.94 326.08 L70.45 324.34 L70.97 322.40 L71.49 320.27 L72.00 317.95 L72.52 315.45 L73.04 312.77 L73.55 309.93 L74.07 306.92 L74.58 303.77 L75.10 300.49 L75.62 297.07 L76.13 293.53 L76.65 289.89 L77.17 286.16 L77.68 282.33 L78.20 278.44 L78.72 274.48 L79.23 270.46 L79.75 266.40 L80.26 262.31 L80.78 258.20 L81.30 254.07 L81.81 249.93 L82.33 245.80 L82.85 241.68 L83.36 237.58 L83.88 233.51 L84.40 229.47 L84.91 225.47 L85.43 221.52 L85.95 217.62 L86.46 213.78 L86.98 210.00 L87.49 206.29 L88.01 202.65 L88.53 199.09 L89.04 195.62 L89.56 192.22 L90.08 188.91 L90.59 185.70 L91.11 182.57 L91.63 179.54 L92.14 176.60 L92.66 173.76 L93.17 171.03 L93.69 168.39 L94.21 165.85 L94.72 163.41 L95.24 161.08 L95.76 158.85 L96.27 156.72 L96.79 154.69 L97.31 152.77 L97.82 150.94 L98.34 149.22 L98.86 147.60 L99.37 146.07 L99.89 144.65 L100.40 143.32 L100.92 142.08 L101.44 140.94 L101.95 139.90 L102.47 138.95 L102.99 138.08 L103.50 137.31 L104.02 136.62 L104.54 136.02 L105.05 135.50 L105.57 135.06 L106.08 134.71 L106.60 134.43 L107.12 134.23 L107.63 134.10 L108.15 134.04 L108.67 134.06 L109.18 134.14 L109.70 134.29 L110.22 134.51 L110.73 134.79 L111.25 135.13 L111.77 135.53 L112.28 135.98 L112.80 136.49 L113.31 137.06 L113.83 137.68 L114.35 138.34 L114.86 139.06 L115.38 139.82 L115.90 140.63 L116.41 141.48 L116.93 142.37 L117.45 143.30 L117.96 144.26 L118.48 145.27 L118.99 146.31 L119.51 147.38 L120.03 148.48 L120.54 149.61 L121.06 150.77 L121.58 151.96 L122.09 153.18 L122.61 154.41 L123.13 155.67 L123.64 156.96 L124.16 158.26 L124.68 159.58 L125.19 160.92 L125.71 162.28 L126.22 163.65 L126.74 165.04 L127.26 166.44 L127.77 167.85 L128.29 169.28 L128.81 170.71 L129.32 172.15 L129.84 173.61 L130.36 175.07 L130.87 176.53 L131.39 178.00 L131.90 179.48 L132.42 180.96 L132.94 182.45 L133.45 183.93 L133.97 185.42 L134.49 186.91 L135.00 188.40 L135.52 189.89 L136.04 191.38 L136.55 192.87 L137.07 194.35 L137.59 195.84 L138.10 197.32 L138.62 198.80 L139.13 200.27 L139.65 201.74 L140.17 203.20 L140.68 204.66 L141.20 206.11 L141.72 207.56 L142.23 209.00 L142.75 210.43 L143.27 211.86 L143.78 213.28 L144.30 214.69 L144.81 216.09 L145.33 217.49 L145.85 218.87 L146.36 220.25 L146.88 221.62 L147.40 222.97 L147.91 224.32 L148.43 225.66 L148.95 226.99 L149.46 228.31 L149.98 229.62 L150.50 230.92 L151.01 232.20 L151.53 233.48 L152.04 234.75 L152.56 236.00 L153.08 237.25 L153.59 238.48 L154.11 239.70 L154.63 240.91 L155.14 242.11 L155.66 243.30 L156.18 244.48 L156.69 245.65 L157.21 246.80 L157.72 247.94 L158.24 249.07 L158.76 250.19 L159.27 251.30 L159.79 252.40 L160.31 253.48 L160.82 254.56 L161.34 255.62 L161.86 256.67 L162.37 257.71 L162.89 258.73 L163.41 259.75 L163.92 260.75 L164.44 261.75 L164.95 262.73 L165.47 263.70 L165.99 264.66 L166.50 265.61 L167.02 266.54 L167.54 267.47 L168.05 268.38 L168.57 269.29 L169.09 270.18 L169.60 271.06 L170.12 271.94 L170.63 272.80 L171.15 273.65 L171.67 274.49 L172.18 275.32 L172.70 276.14 L173.22 276.94 L173.73 277.74 L174.25 278.53 L174.77 279.31 L175.28 280.08 L175.80 280.84 L176.32 281.59 L176.83 282.32 L177.35 283.05 L177.86 283.77 L178.38 284.48 L178.90 285.19 L179.41 285.88 L179.93 286.56 L180.45 287.23 L180.96 287.90 L181.48 288.55 L182.00 289.20 L182.51 289.84 L183.03 290.47 L183.54 291.09 L184.06 291.70 L184.58 292.31 L185.09 292.90 L185.61 293.49 L186.13 294.07 L186.64 294.64 L187.16 295.21 L187.68 295.76 L188.19 296.31 L188.71 296.85 L189.23 297.38 L189.74 297.91 L190.26 298.43 L190.77 298.94 L191.29 299.44 L191.81 299.94 L192.32 300.43 L192.84 300.91 L193.36 301.39 L193.87 301.86 L194.39 302.32 L194.91 302.78 L195.42 303.23 L195.94 303.67 L196.45 304.11 L196.97 304.54 L197.49 304.96 L198.00 305.38 L198.52 305.79 L199.04 306.20 L199.55 306.60 L200.07 307.00 L200.59 307.39 L201.10 307.77 L201.62 308.15 L202.14 308.52 L202.65 308.89 L203.17 309.25 L203.68 309.60 L204.20 309.96 L204.72 310.30 L205.23 310.64 L205.75 310.98 L206.27 311.31 L206.78 311.64 L207.30 311.96 L207.82 312.28 L208.33 312.59 L208.85 312.90 L209.36 313.20 L209.88 313.50 L210.40 313.79 L210.91 314.08 L211.43 314.37 L211.95 314.65 L212.46 314.93 L212.98 315.20 L213.50 315.47 L214.01 315.73 L214.53 315.99 L215.05 316.25 L215.56 316.50 L216.08 316.75 L216.59 317.00 L217.11 317.24 L217.63 317.48 L218.14 317.72 L218.66 317.95 L219.18 318.18 L219.69 318.40 L220.21 318.62 L220.73 318.84 L221.24 319.06 L221.76 319.27 L222.27 319.48 L222.79 319.68 L223.31 319.89 L223.82 320.09 L224.34 320.28 L224.86 320.48 L225.37 320.67 L225.89 320.85 L226.41 321.04 L226.92 321.22 L227.44 321.40 L227.96 321.58 L228.47 321.75 L228.99 321.93 L229.50 322.09 L230.02 322.26 L230.54 322.43 L231.05 322.59 L231.57 322.75 L232.09 322.90 L232.60 323.06 L233.12 323.21 L233.64 323.36 L234.15 323.51 L234.67 323.65 L235.18 323.80 L235.70 323.94 L236.22 324.08 L236.73 324.21 L237.25 324.35 L237.77 324.48 L238.28 324.61 L238.80 324.74 L239.32 324.87 L239.83 324.99 L240.35 325.12 L240.87 325.24 L241.38 325.36 L241.90 325.48 L242.41 325.59 L242.93 325.71 L243.45 325.82 L243.96 325.93 L244.48 326.04 L245.00 326.15 L245.51 326.26 L246.03 326.36 L246.55 326.46 L247.06 326.56 L247.58 326.66 L248.09 326.76 L248.61 326.86 L249.13 326.96 L249.64 327.05 L250.16 327.14 L250.68 327.23 L251.19 327.32 L251.71 327.41 L252.23 327.50 L252.74 327.59 L253.26 327.67 L253.78 327.76 L254.29 327.84 L254.81 327.92 L255.32 328.00 L255.84 328.08 L256.36 328.16 L256.87 328.23 L257.39 328.31 L257.91 328.38 L258.42 328.45 L258.94 328.53 L259.46 328.60 L259.97 328.67 L260.49 328.74 L261.00 328.80 L261.52 328.87 L262.04 328.94 L262.55 329.00 L263.07 329.07 L263.59 329.13 L264.10 329.19 L264.62 329.25 L265.14 329.31 L265.65 329.37 L266.17 329.43 L266.69 329.49 L267.20 329.55 L267.72 329.60 L268.23 329.66 L268.75 329.71 L269.27 329.76 L269.78 329.82 L270.30 329.87 L270.82 329.92 L271.33 329.97 L271.85 330.02 L272.37 330.07 L272.88 330.12 L273.40 330.17 L273.91 330.21 L274.43 330.26 L274.95 330.30 L275.46 330.35 L275.98 330.39 L276.50 330.44 L277.01 330.48 L277.53 330.52 L278.05 330.57 L278.56 330.61 L279.08 330.65 L279.60 330.69 L280.11 330.73 L280.63 330.77 L281.14 330.80 L281.66 330.84 L282.18 330.88 L282.69 330.92 L283.21 330.95 L283.73 330.99 L284.24 331.02 L284.76 331.06 L285.28 331.09 L285.79 331.12 L286.31 331.16 L286.82 331.19 L287.34 331.22 L287.86 331.25 L288.37 331.29 L288.89 331.32 L289.41 331.35 L289.92 331.38 L290.44 331.41 L290.96 331.44 L291.47 331.46 L291.99 331.49 L292.51 331.52 L293.02 331.55 L293.54 331.57 L294.05 331.60 L294.57 331.63 L295.09 331.65 L295.60 331.68 L296.12 331.70 L296.64 331.73 L297.15 331.75 L297.67 331.78 L298.19 331.80 L298.70 331.83 L299.22 331.85 L299.73 331.87 L300.25 331.89 L300.77 331.92 L301.28 331.94 L301.80 331.96 L302.32 331.98 L302.83 332.00 L303.35 332.02 L303.87 332.04 L304.38 332.06 L304.90 332.08 L305.42 332.10 L305.93 332.12 L306.45 332.14 L306.96 332.16 L307.48 332.18 L308.00 332.20 L308.51 332.21 L309.03 332.23 L309.55 332.25 L310.06 332.27 L310.58 332.28 L311.10 332.30 L311.61 332.32 L312.13 332.33 L312.64 332.35 L313.16 332.37 L313.68 332.38 L314.19 332.40 L314.71 332.41 L315.23 332.43 L315.74 332.44 L316.26 332.46 L316.78 332.47 L317.29 332.48 L317.81 332.50 L318.33 332.51 L318.84 332.53 L319.36 332.54 L319.87 332.55 L320.39 332.57 L320.91 332.58 L321.42 332.59 L321.94 332.60 L322.46 332.62 L322.97 332.63 L323.49 332.64 L324.01 332.65 L324.52 332.66 L325.04 332.68 L325.55 332.69 L326.07 332.70 L326.59 332.71 L327.10 332.72 L327.62 332.73 L328.14 332.74 L328.65 332.75 L329.17 332.76 L329.69 332.77 L330.20 332.78 L330.72 332.79 L331.24 332.80 L331.75 332.81 L332.27 332.82 L332.78 332.83 L333.30 332.84 L333.82 332.85 L334.33 332.86 L334.85 332.87 L335.37 332.88 L335.88 332.88 L336.40 332.89 L336.92 332.90 L337.43 332.91 L337.95 332.92 L338.46 332.93 L338.98 332.93 L339.50 332.94 L340.01 332.95 L340.53 332.96 L341.05 332.97 L341.56 332.97 L342.08 332.98 L342.60 332.99 L343.11 332.99 L343.63 333.00 L344.15 333.01 L344.66 333.02 L345.18 333.02 L345.69 333.03 L346.21 333.04 L346.73 333.04 L347.24 333.05 L347.76 333.06 L348.28 333.06 L348.79 333.07 L349.31 333.07 L349.83 333.08 L350.34 333.09 L350.86 333.09 L351.37 333.10 L351.89 333.10 L352.41 333.11 L352.92 333.12 L353.44 333.12 L353.96 333.13 L354.47 333.13 L354.99 333.14 L355.51 333.14 L356.02 333.15 L356.54 333.15 L357.06 333.16 L357.57 333.16 L358.09 333.17 L358.60 333.17 L359.12 333.18 L359.64 333.18 L360.15 333.19 L360.67 333.19 L361.19 333.20 L361.70 333.20 L362.22 333.20 L362.74 333.21 L363.25 333.21 L363.77 333.22 L364.28 333.22 L364.80 333.23 L365.32 333.23 L365.83 333.23 L366.35 333.24 L366.87 333.24 L367.38 333.25 L367.90 333.25 L368.42 333.25 L368.93 333.26 L369.45 333.26 L369.97 333.26 L370.48 333.27 L371.00 333.27 L371.51 333.28 L372.03 333.28 L372.55 333.28 L373.06 333.29 L373.58 333.29" stroke="#00FF00" stroke-dasharray="0.010,5.764,4.323,5.764"/>
<path d="M68.90 243.11 L69.42 232.74 L69.94 222.57 L70.45 212.65 L70.97 202.99 L71.49 193.63 L72.00 184.60 L72.52 175.90 L73.04 167.55 L73.55 159.55 L74.07 151.92 L74.58 144.66 L75.10 137.76 L75.62 131.23 L76.13 125.06 L76.65 119.25 L77.17 113.79 L77.68 108.69 L78.20 103.93 L78.72 99.50 L79.23 95.40 L79.75 91.61 L80.26 88.14 L80.78 84.97 L81.30 82.09 L81.81 79.50 L82.33 77.18 L82.85 75.12 L83.36 73.32 L83.88 71.76 L84.40 70.44 L84.91 69.35 L85.43 68.47 L85.95 67.80 L86.46 67.34 L86.98 67.06 L87.49 66.97 L88.01 67.05 L88.53 67.30 L89.04 67.71 L89.56 68.26 L90.08 68.97 L90.59 69.80 L91.11 70.77 L91.63 71.86 L92.14 73.07 L92.66 74.38 L93.17 75.80 L93.69 77.31 L94.21 78.92 L94.72 80.61 L95.24 82.38 L95.76 84.22 L96.27 86.14 L96.79 88.12 L97.31 90.16 L97.82 92.26 L98.34 94.41 L98.86 96.60 L99.37 98.84 L99.89 101.12 L100.40 103.44 L100.92 105.78 L101.44 108.16 L101.95 110.57 L102.47 112.99 L102.99 115.44 L103.50 117.91 L104.02 120.39 L104.54 122.88 L105.05 125.38 L105.57 127.89 L106.08 130.41 L106.60 132.93 L107.12 135.45 L107.63 137.97 L108.15 140.49 L108.67 143.01 L109.18 145.52 L109.70 148.02 L110.22 150.52 L110.73 153.01 L111.25 155.48 L111.77 157.95 L112.28 160.40 L112.80 162.84 L113.31 165.26 L113.83 167.67 L114.35 170.06 L114.86 172.43 L115.38 174.78 L115.90 177.12 L116.41 179.44 L116.93 181.73 L117.45 184.01 L117.96 186.26 L118.48 188.50 L118.99 190.71 L119.51 192.90 L120.03 195.07 L120.54 197.21 L121.06 199.33 L121.58 201.43 L122.09 203.50 L122.61 205.55 L123.13 207.58 L123.64 209.58 L124.16 211.56 L124.68 213.51 L125.19 215.44 L125.71 217.34 L126.22 219.23 L126.74 221.08 L127.26 222.91 L127.77 224.72 L128.29 226.51 L128.81 228.26 L129.32 230.00 L129.84 231.71 L130.36 233.40 L130.87 235.06 L131.39 236.70 L131.90 238.32 L132.42 239.91 L132.94 241.48 L133.45 243.03 L133.97 244.55 L134.49 246.06 L135.00 247.54 L135.52 248.99 L136.04 250.43 L136.55 251.84 L137.07 253.23 L137.59 254.60 L138.10 255.95 L138.62 257.28 L139.13 258.58 L139.65 259.87 L140.17 261.14 L140.68 262.38 L141.20 263.61 L141.72 264.81 L142.23 266.00 L142.75 267.17 L143.27 268.32 L143.78 269.45 L144.30 270.56 L144.81 271.65 L145.33 272.73 L145.85 273.79 L146.36 274.83 L146.88 275.85 L147.40 276.85 L147.91 277.84 L148.43 278.82 L148.95 279.77 L149.46 280.71 L149.98 281.64 L150.50 282.54 L151.01 283.44 L151.53 284.32 L152.04 285.18 L152.56 286.03 L153.08 286.86 L153.59 287.68 L154.11 288.49 L154.63 289.28 L155.14 290.05 L155.66 290.82 L156.18 291.57 L156.69 292.31 L157.21 293.03 L157.72 293.75 L158.24 294.45 L158.76 295.14 L159.27 295.81 L159.79 296.48 L160.31 297.13 L160.82 297.77 L161.34 298.40 L161.86 299.02 L162.37 299.63 L162.89 300.22 L163.41 300.81 L163.92 301.39 L164.44 301.95 L164.95 302.51 L165.47 303.06 L165.99 303.59 L166.50 304.12 L167.02 304.64 L167.54 305.15 L168.05 305.65 L168.57 306.14 L169.09 306.62 L169.60 307.09 L170.12 307.56 L170.63 308.01 L171.15 308.46 L171.67 308.90 L172.18 309.34 L172.70 309.76 L173.22 310.18 L173.73 310.59 L174.25 310.99 L174.77 311.39 L175.28 311.78 L175.80 312.16 L176.32 312.53 L176.83 312.90 L177.35 313.26 L177.86 313.62 L178.38 313.97 L178.90 314.31 L179.41 314.64 L179.93 314.97 L180.45 315.30 L180.96 315.62 L181.48 315.93 L182.00 316.24 L182.51 316.54 L183.03 316.83 L183.54 317.13 L184.06 317.41 L184.58 317.69 L185.09 317.97 L185.61 318.24 L186.13 318.50 L186.64 318.76 L187.16 319.02 L187.68 319.27 L188.19 319.52 L188.71 319.76 L189.23 320.00 L189.74 320.24 L190.26 320.47 L190.77 320.69 L191.29 320.91 L191.81 321.13 L192.32 321.35 L192.84 321.56 L193.36 321.76 L193.87 321.97 L194.39 322.16 L194.91 322.36 L195.42 322.55 L195.94 322.74 L196.45 322.93 L196.97 323.11 L197.49 323.29 L198.00 323.46 L198.52 323.64 L199.04 323.80 L199.55 323.97 L200.07 324.13 L200.59 324.29 L201.10 324.45 L201.62 324.61 L202.14 324.76 L202.65 324.91 L203.17 325.06 L203.68 325.20 L204.20 325.34 L204.72 325.48 L205.23 325.62 L205.75 325.75 L206.27 325.88 L206.78 326.01 L207.30 326.14 L207.82 326.27 L208.33 326.39 L208.85 326.51 L209.36 326.63 L209.88 326.74 L210.40 326.86 L210.91 326.97 L211.43 327.08 L211.95 327.19 L212.46 327.30 L212.98 327.40 L213.50 327.50 L214.01 327.60 L214.53 327.70 L215.05 327.80 L215.56 327.90 L216.08 327.99 L216.59 328.08 L217.11 328.17 L217.63 328.26 L218.14 328.35 L218.66 328.44 L219.18 328.52 L219.69 328.61 L220.21 328.69 L220.73 328.77 L221.24 328.85 L221.76 328.93 L222.27 329.00 L222.79 329.08 L223.31 329.15 L223.82 329.22 L224.34 329.29 L224.86 329.36 L225.37 329.43 L225.89 329.50 L226.41 329.57 L226.92 329.63 L227.44 329.70 L227.96 329.76 L228.47 329.82 L228.99 329.88 L229.50 329.94 L230.02 330.00 L230.54 330.06 L231.05 330.11 L231.57 330.17 L232.09 330.22 L232.60 330.28 L233.12 330.33 L233.64 330.38 L234.15 330.43 L234.67 330.49 L235.18 330.53 L235.70 330.58 L236.22 330.63 L236.73 330.68 L237.25 330.72 L237.77 330.77 L238.28 330.81 L238.80 330.86 L239.32 330.90 L239.83 330.94 L240.35 330.99 L240.87 331.03 L241.38 331.07 L241.90 331.11 L242.41 331.15 L242.93 331.18 L243.45 331.22 L243.96 331.26 L244.48 331.30 L245.00 331.33 L245.51 331.37 L246.03 331.40 L246.55 331.43 L247.06 331.47 L247.58 331.50 L248.09 331.53 L248.61 331.57 L249.13 331.60 L249.64 331.63 L250.16 331.66 L250.68 331.69 L251.19 331.72 L251.71 331.75 L252.23 331.77 L252.74 331.80 L253.26 331.83 L253.78 331.86 L254.29 331.88 L254.81 331.91 L255.32 331.93 L255.84 331.96 L256.36 331.98 L256.87 332.01 L257.39 332.03 L257.91 332.06 L258.42 332.08 L258.94 332.10 L259.46 332.12 L259.97 332.15 L260.49 332.17 L261.00 332.19 L261.52 332.21 L262.04 332.23 L262.55 332.25 L263.07 332.27 L263.59 332.29 L264.10 332.31 L264.62 332.33 L265.14 332.35 L265.65 332.37 L266.17 332.39 L266.69 332.40 L267.20 332.42 L267.72 332.44 L268.23 332.46 L268.75 332.47 L269.27 332.49 L269.78 332.51 L270.30 332.52 L270.82 332.54 L271.33 332.55 L271.85 332.57 L272.37 332.58 L272.88 332.60 L273.40 332.61 L273.91 332.63 L274.43 332.64 L274.95 332.65 L275.46 332.67 L275.98 332.68 L276.50 332.69 L277.01 332.71 L277.53 332.72 L278.05 332.73 L278.56 332.74 L279.08 332.76 L279.60 332.77 L280.11 332.78 L280.63 332.79 L281.14 332.80 L281.66 332.81 L282.18 332.83 L282.69 332.84 L283.21 332.85 L283.73 332.86 L284.24 332.87 L284.76 332.88 L285.28 332.89 L285.79 332.90 L286.31 332.91 L286.82 332.92 L287.34 332.93 L287.86 332.94 L288.37 332.95 L288.89 332.95 L289.41 332.96 L289.92 332.97 L290.44 332.98 L290.96 332.99 L291.47 333.00 L291.99 333.01 L292.51 333.01 L293.02 333.02 L293.54 333.03 L294.05 333.04 L294.57 333.04 L295.09 333.05 L295.60 333.06 L296.12 333.07 L296.64 333.07 L297.15 333.08 L297.67 333.09 L298.19 333.09 L298.70 333.10 L299.22 333.11 L299.73 333.11 L300.25 333.12 L300.77 333.13 L301.28 333.13 L301.80 333.14 L302.32 333.15 L302.83 333.15 L303.35 333.16 L303.87 333.16 L304.38 333.17 L304.90 333.17 L305.42 333.18 L305.93 333.19 L306.45 333.19 L306.96 333.20 L307.48 333.20 L308.00 333.21 L308.51 333.21 L309.03 333.22 L309.55 333.22 L310.06 333.23 L310.58 333.23 L311.10 333.24 L311.61 333.24 L312.13 333.25 L312.64 333.25 L313.16 333.25 L313.68 333.26 L314.19 333.26 L314.71 333.27 L315.23 333.27 L315.74 333.27 L316.26 333.28 L316.78 333.28 L317.29 333.29 L317.81 333.29 L318.33 333.29 L318.84 333.30 L319.36 333.30 L319.87 333.31 L320.39 333.31 L320.91 333.31 L321.42 333.32 L321.94 333.32 L322.46 333.32 L322.97 333.33 L323.49 333.33 L324.01 333.33 L324.52 333.34 L325.04 333.34 L325.55 333.34 L326.07 333.35 L326.59 333.35 L327.10 333.35 L327.62 333.35 L328.14 333.36 L328.65 333.36 L329.17 333.36 L329.69 333.37 L330.20 333.37 L330.72 333.37 L331.24 333.37 L331.75 333.38 L332.27 333.38 L332.78 333.38 L333.30 333.38 L333.82 333.39 L334.33 333.39 L334.85 333.39 L335.37 333.39 L335.88 333.40 L336.40 333.40 L336.92 333.40 L337.43 333.40 L337.95 333.40 L338.46 333.41 L338.98 333.41 L339.50 333.41 L340.01 333.41 L340.53 333.42 L341.05 333.42 L341.56 333.42 L342.08 333.42 L342.60 333.42 L343.11 333.42 L343.63 333.43 L344.15 333.43 L344.66 333.43 L345.18 333.43 L345.69 333.43 L346.21 333.44 L346.73 333.44 L347.24 333.44 L347.76 333.44 L348.28 333.44 L348.79 333.44 L349.31 333.45 L349.83 333.45 L350.34 333.45 L350.86 333.45 L351.37 333.45 L351.89 333.45 L352.41 333.46 L352.92 333.46 L353.44 333.46 L353.96 333.46 L354.47 333.46 L354.99 333.46 L355.51 333.46 L356.02 333.46 L356.54 333.47 L357.06 333.47 L357.57 333.47 L358.09 333.47 L358.60 333.47 L359.12 333.47 L359.64 333.47 L360.15 333.47 L360.67 333.48 L361.19 333.48 L361.70 333.48 L362.22 333.48 L362.74 333.48 L363.25 333.48 L363.77 333.48 L364.28 333.48 L364.80 333.49 L365.32 333.49 L365.83 333.49 L366.35 333.49 L366.87 333.49 L367.38 333.49 L367.90 333.49 L368.42 333.49 L368.93 333.49 L369.45 333.49 L369.97 333.50 L370.48 333.50 L371.00 333.50 L371.51 333.50 L372.03 333.50 L372.55 333.50 L373.06 333.50 L373.58 333.50" stroke="#BEBEBE" stroke-dasharray="8.646,5.764"/>
<path d="M68.90 333.57 L69.42 333.57 L69.94 333.57 L70.45 333.57 L70.97 333.57 L71.49 333.57 L72.00 333.57 L72.52 333.57 L73.04 333.57 L73.55 333.57 L74.07 333.57 L74.58 333.57 L75.10 333.57 L75.62 333.57 L76.13 333.57 L76.65 333.57 L77.17 333.57 L77.68 333.57 L78.20 333.57 L78.72 333.57 L79.23 333.57 L79.75 333.57 L80.26 333.57 L80.78 333.57 L81.30 333.57 L81.81 333.57 L82.33 333.57 L82.85 333.57 L83.36 333.57 L83.88 333.57 L84.40 333.57 L84.91 333.57 L85.43 333.57 L85.95 333.57 L86.46 333.57 L86.98 333.57 L87.49 333.57 L88.01 333.57 L88.53 333.57 L89.04 333.57 L89.56 333.57 L90.08 333.57 L90.59 333.57 L91.11 333.57 L91.63 333.57 L92.14 333.57 L92.66 333.57 L93.17 333.57 L93.69 333.57 L94.21 333.57 L94.72 333.57 L95.24 333.57 L95.76 333.57 L96.27 333.57 L96.79 333.57 L97.31 333.57 L97.82 333.57 L98.34 333.57 L98.86 333.57 L99.37 333.57 L99.89 333.57 L100.40 333.57 L100.92 333.57 L101.44 333.57 L101.95 333.57 L102.47 333.57 L102.99 333.57 L103.50 333.57 L104.02 333.57 L104.54 333.57 L105.05 333.57 L105.57 333.57 L106.08 333.57 L106.60 333.57 L107.12 333.57 L107.63 333.57 L108.15 333.57 L108.67 333.57 L109.18 333.57 L109.70 333.57 L110.22 333.57 L110.73 333.57 L111.25 333.57 L111.77 333.57 L112.28 333.57 L112.80 333.57 L113.31 333.57 L113.83 333.57 L114.35 333.57 L114.86 333.57 L115.38 333.57 L115.90 333.57 L116.41 333.57 L116.93 333.57 L117.45 333.57 L117.96 333.57 L118.48 333.57 L118.99 333.57 L119.51 333.57 L120.03 333.57 L120.54 333.57 L121.06 333.57 L121.58 333.57 L122.09 333.57 L122.61 333.57 L123.13 333.57 L123.64 333.57 L124.16 333.57 L124.68 333.57 L125.19 333.57 L125.71 333.57 L126.22 333.57 L126.74 333.57 L127.26 333.57 L127.77 333.57 L128.29 333.57 L128.81 333.57 L129.32 333.57 L129.84 333.57 L130.36 333.57 L130.87 333.57 L131.39 333.57 L131.90 333.57 L132.42 333.57 L132.94 333.57 L133.45 333.57 L133.97 333.57 L134.49 333.57 L135.00 333.57 L135.52 333.57 L136.04 333.57 L136.55 333.57 L137.07 333.57 L137.59 333.57 L138.10 333.57 L138.62 333.57 L139.13 333.57 L139.65 333.57 L140.17 333.57 L140.68 333.57 L141.20 333.57 L141.72 333.57 L142.23 333.57 L142.75 333.57 L143.27 333.57 L143.78 333.57 L144.30 333.57 L144.81 333.57 L145.33 333.57 L145.85 333.57 L146.36 333.57 L146.88 333.57 L147.40 333.57 L147.91 333.57 L148.43 333.57 L148.95 333.57 L149.46 333.57 L149.98 333.57 L150.50 333.57 L151.01 333.56 L151.53 333.56 L152.04 333.56 L152.56 333.56 L153.08 333.56 L153.59 333.56 L154.11 333.56 L154.63 333.56 L155.14 333.56 L155.66 333.55 L156.18 333.55 L156.69 333.55 L157.21 333.55 L157.72 333.55 L158.24 333.54 L158.76 333.54 L159.27 333.54 L159.79 333.53 L160.31 333.53 L160.82 333.52 L161.34 333.52 L161.86 333.51 L162.37 333.51 L162.89 333.50 L163.41 333.50 L163.92 333.49 L164.44 333.48 L164.95 333.47 L165.47 333.46 L165.99 333.45 L166.50 333.44 L167.02 333.43 L167.54 333.41 L168.05 333.40 L168.57 333.38 L169.09 333.36 L169.60 333.35 L170.12 333.33 L170.63 333.30 L171.15 333.28 L171.67 333.26 L172.18 333.23 L172.70 333.20 L173.22 333.17 L173.73 333.14 L174.25 333.10 L174.77 333.06 L175.28 333.02 L175.80 332.98 L176.32 332.93 L176.83 332.89 L177.35 332.83 L177.86 332.78 L178.38 332.72 L178.90 332.66 L179.41 332.59 L179.93 332.52 L180.45 332.44 L180.96 332.37 L181.48 332.28 L182.00 332.19 L182.51 332.10 L183.03 332.00 L183.54 331.89 L184.06 331.78 L184.58 331.67 L185.09 331.55 L185.61 331.42 L186.13 331.28 L186.64 331.14 L187.16 330.99 L187.68 330.83 L188.19 330.67 L188.71 330.49 L189.23 330.31 L189.74 330.12 L190.26 329.92 L190.77 329.72 L191.29 329.50 L191.81 329.27 L192.32 329.04 L192.84 328.79 L193.36 328.53 L193.87 328.27 L194.39 327.99 L194.91 327.70 L195.42 327.40 L195.94 327.08 L196.45 326.76 L196.97 326.42 L197.49 326.07 L198.00 325.70 L198.52 325.33 L199.04 324.94 L199.55 324.53 L200.07 324.11 L200.59 323.68 L201.10 323.24 L201.62 322.77 L202.14 322.30 L202.65 321.81 L203.17 321.30 L203.68 320.78 L204.20 320.24 L204.72 319.68 L205.23 319.11 L205.75 318.53 L206.27 317.92 L206.78 317.30 L207.30 316.67 L207.82 316.01 L208.33 315.34 L208.85 314.65 L209.36 313.95 L209.88 313.22 L210.40 312.48 L210.91 311.73 L211.43 310.95 L211.95 310.16 L212.46 309.35 L212.98 308.52 L213.50 307.68 L214.01 306.81 L214.53 305.93 L215.05 305.04 L215.56 304.12 L216.08 303.19 L216.59 302.24 L217.11 301.28 L217.63 300.29 L218.14 299.29 L218.66 298.28 L219.18 297.24 L219.69 296.20 L220.21 295.13 L220.73 294.05 L221.24 292.96 L221.76 291.84 L222.27 290.72 L222.79 289.58 L223.31 288.42 L223.82 287.26 L224.34 286.07 L224.86 284.88 L225.37 283.67 L225.89 282.45 L226.41 281.22 L226.92 279.97 L227.44 278.72 L227.96 277.45 L228.47 276.17 L228.99 274.88 L229.50 273.59 L230.02 272.28 L230.54 270.97 L231.05 269.65 L231.57 268.32 L232.09 266.98 L232.60 265.64 L233.12 264.29 L233.64 262.94 L234.15 261.58 L234.67 260.21 L235.18 258.85 L235.70 257.48 L236.22 256.11 L236.73 254.73 L237.25 253.36 L237.77 251.98 L238.28 250.61 L238.80 249.23 L239.32 247.86 L239.83 246.48 L240.35 245.11 L240.87 243.75 L241.38 242.38 L241.90 241.03 L242.41 239.67 L242.93 238.32 L243.45 236.98 L243.96 235.65 L244.48 234.32 L245.00 233.00 L245.51 231.68 L246.03 230.38 L246.55 229.09 L247.06 227.80 L247.58 226.53 L248.09 225.27 L248.61 224.02 L249.13 222.79 L249.64 221.56 L250.16 220.35 L250.68 219.16 L251.19 217.98 L251.71 216.81 L252.23 215.66 L252.74 214.53 L253.26 213.41 L253.78 212.31 L254.29 211.23 L254.81 210.16 L255.32 209.11 L255.84 208.09 L256.36 207.08 L256.87 206.09 L257.39 205.12 L257.91 204.17 L258.42 203.25 L258.94 202.34 L259.46 201.46 L259.97 200.60 L260.49 199.76 L261.00 198.94 L261.52 198.14 L262.04 197.37 L262.55 196.62 L263.07 195.90 L263.59 195.19 L264.10 194.52 L264.62 193.86 L265.14 193.23 L265.65 192.63 L266.17 192.05 L266.69 191.49 L267.20 190.96 L267.72 190.46 L268.23 189.98 L268.75 189.52 L269.27 189.09 L269.78 188.69 L270.30 188.31 L270.82 187.95 L271.33 187.62 L271.85 187.32 L272.37 187.04 L272.88 186.79 L273.40 186.56 L273.91 186.36 L274.43 186.18 L274.95 186.03 L275.46 185.90 L275.98 185.79 L276.50 185.72 L277.01 185.66 L277.53 185.63 L278.05 185.63 L278.56 185.65 L279.08 185.69 L279.60 185.76 L280.11 185.85 L280.63 185.96 L281.14 186.10 L281.66 186.26 L282.18 186.44 L282.69 186.65 L283.21 186.88 L283.73 187.13 L284.24 187.40 L284.76 187.69 L285.28 188.01 L285.79 188.34 L286.31 188.70 L286.82 189.07 L287.34 189.47 L287.86 189.88 L288.37 190.32 L288.89 190.77 L289.41 191.25 L289.92 191.74 L290.44 192.25 L290.96 192.78 L291.47 193.32 L291.99 193.88 L292.51 194.46 L293.02 195.06 L293.54 195.67 L294.05 196.29 L294.57 196.94 L295.09 197.59 L295.60 198.26 L296.12 198.95 L296.64 199.65 L297.15 200.36 L297.67 201.09 L298.19 201.83 L298.70 202.58 L299.22 203.34 L299.73 204.12 L300.25 204.91 L300.77 205.70 L301.28 206.51 L301.80 207.33 L302.32 208.16 L302.83 209.00 L303.35 209.84 L303.87 210.70 L304.38 211.56 L304.90 212.44 L305.42 213.32 L305.93 214.20 L306.45 215.10 L306.96 216.00 L307.48 216.91 L308.00 217.82 L308.51 218.74 L309.03 219.66 L309.55 220.59 L310.06 221.53 L310.58 222.47 L311.10 223.41 L311.61 224.36 L312.13 225.31 L312.64 226.26 L313.16 227.21 L313.68 228.17 L314.19 229.13 L314.71 230.10 L315.23 231.06 L315.74 232.03 L316.26 232.99 L316.78 233.96 L317.29 234.93 L317.81 235.90 L318.33 236.87 L318.84 237.84 L319.36 238.80 L319.87 239.77 L320.39 240.74 L320.91 241.70 L321.42 242.67 L321.94 243.63 L322.46 244.59 L322.97 245.55 L323.49 246.51 L324.01 247.46 L324.52 248.41 L325.04 249.36 L325.55 250.31 L326.07 251.25 L326.59 252.19 L327.10 253.12 L327.62 254.06 L328.14 254.98 L328.65 255.91 L329.17 256.83 L329.69 257.74 L330.20 258.65 L330.72 259.56 L331.24 260.46 L331.75 261.36 L332.27 262.25 L332.78 263.14 L333.30 264.02 L333.82 264.90 L334.33 265.77 L334.85 266.63 L335.37 267.49 L335.88 268.34 L336.40 269.19 L336.92 270.03 L337.43 270.87 L337.95 271.70 L338.46 272.52 L338.98 273.34 L339.50 274.15 L340.01 274.95 L340.53 275.75 L341.05 276.54 L341.56 277.32 L342.08 278.10 L342.60 278.87 L343.11 279.64 L343.63 280.39 L344.15 281.15 L344.66 281.89 L345.18 282.63 L345.69 283.36 L346.21 284.08 L346.73 284.80 L347.24 285.50 L347.76 286.21 L348.28 286.90 L348.79 287.59 L349.31 288.27 L349.83 288.95 L350.34 289.61 L350.86 290.27 L351.37 290.92 L351.89 291.57 L352.41 292.21 L352.92 292.84 L353.44 293.47 L353.96 294.08 L354.47 294.69 L354.99 295.30 L355.51 295.89 L356.02 296.48 L356.54 297.07 L357.06 297.64 L357.57 298.21 L358.09 298.77 L358.60 299.33 L359.12 299.88 L359.64 300.42 L360.15 300.95 L360.67 301.48 L361.19 302.00 L361.70 302.52 L362.22 303.03 L362.74 303.53 L363.25 304.02 L363.77 304.51 L364.28 304.99 L364.80 305.47 L365.32 305.94 L365.83 306.40 L366.35 306.86 L366.87 307.31 L367.38 307.76 L367.90 308.19 L368.42 308.63 L368.93 309.05 L369.45 309.47 L369.97 309.89 L370.48 310.30 L371.00 310.70 L371.51 311.10 L372.03 311.49 L372.55 311.87 L373.06 312.25 L373.58 312.63" stroke="#A020F0" stroke-dasharray="1.441,4.323,7.205,4.323"/>
</g>
<g fill="none" stroke="#000" stroke-width="0.860" stroke-linecap="round" stroke-linejoin="round">
<path d="M63.74 344.40 H373.58"/>
<path d="M63.74 344.40 v6.92"/>
<path d="M115.38 344.40 v6.92"/>
<path d="M167.02 344.40 v6.92"/>
<path d="M218.66 344.40 v6.92"/>
<path d="M270.30 344.40 v6.92"/>
<path d="M321.94 344.40 v6.92"/>
<path d="M373.58 344.40 v6.92"/>
<path d="M56.55 333.57 V97.57"/>
<path d="M56.55 333.57 h-6.92"/>
<path d="M56.55 274.57 h-6.92"/>
<path d="M56.55 215.57 h-6.92"/>
<path d="M56.55 156.57 h-6.92"/>
<path d="M56.55 97.57 h-6.92"/>
<path d="M56.55 56.50 H386.00"/><path d="M386.00 56.50 V344.40"/><path d="M386.00 344.40 H56.55"/><path d="M56.55 344.40 V56.50"/>
</g>
<rect x="262.50" y="56.50" width="123.50" height="96.83" fill="#fff"/>
<g fill="none" stroke="#000" stroke-width="0.860" stroke-linecap="round"><path d="M262.50 56.50 H386.00"/><path d="M386.00 56.50 V153.33"/><path d="M386.00 153.33 H262.50"/><path d="M262.50 153.33 V56.50"/></g>
<g fill="none" stroke-width="1.620" stroke-linecap="round">
<path d="M272.88 70.33 H293.62" stroke="#A020F0" stroke-dasharray="1.441,4.323,7.205,4.323"/>
<path d="M272.88 84.17 H293.62" stroke="#000000"/>
<path d="M272.88 98.00 H293.62" stroke="#0000FF" stroke-dasharray="4.323,7.205"/>
<path d="M272.88 111.83 H293.62" stroke="#FF0000" stroke-dasharray="0.010,5.764"/>
<path d="M272.88 125.67 H293.62" stroke="#00FF00" stroke-dasharray="0.010,5.764,4.323,5.764"/>
<path d="M272.88 139.50 H293.62" stroke="#BEBEBE" stroke-dasharray="8.646,5.764"/>
</g>
<g font-family="Liberation Sans, sans-serif" fill="#000" stroke="#000" stroke-width="0.2" opacity="0.999">
<text transform="translate(303.51 72.83) rotate(0.03) scale(1.2140 0.9800)" font-size="11.53" stroke="none">α</text>
<text transform="translate(311.14 73.16) rotate(0.03) scale(1.0000 0.8540)" font-size="11.53" stroke="#000" stroke-width="0.3">=</text>
<text transform="translate(317.87 72.83) rotate(0.03) scale(1.0000 1.0200)" font-size="11.53">0.10,</text>
<text transform="translate(346.96 72.83) rotate(0.03) scale(1.0026 1.0200)" font-size="11.53">γ</text>
<text transform="translate(352.24 73.16) rotate(0.03) scale(1.0000 0.8540)" font-size="11.53" stroke="#000" stroke-width="0.3">=</text>
<text transform="translate(358.97 72.83) rotate(0.03) scale(1.0000 1.0200)" font-size="11.53" letter-spacing="-0.285">0.00</text>
<text transform="translate(303.51 86.67) rotate(0.03) scale(1.2140 0.9800)" font-size="11.53" stroke="none">α</text>
<text transform="translate(311.14 87.00) rotate(0.03) scale(1.0000 0.8540)" font-size="11.53" stroke="#000" stroke-width="0.3">=</text>
<text transform="translate(317.87 86.67) rotate(0.03) scale(1.0000 1.0200)" font-size="11.53">0.10,</text>
<text transform="translate(346.96 86.67) rotate(0.03) scale(1.0026 1.0200)" font-size="11.53">γ</text>
<text transform="translate(352.24 87.00) rotate(0.03) scale(1.0000 0.8540)" font-size="11.53" stroke="#000" stroke-width="0.3">=</text>
<text transform="translate(358.97 86.67) rotate(0.03) scale(1.0000 1.0200)" font-size="11.53" letter-spacing="-0.285">0.20</text>
<text transform="translate(303.51 100.50) rotate(0.03) scale(1.2140 0.9800)" font-size="11.53" stroke="none">α</text>
<text transform="translate(311.14 100.83) rotate(0.03) scale(1.0000 0.8540)" font-size="11.53" stroke="#000" stroke-width="0.3">=</text>
<text transform="translate(317.87 100.50) rotate(0.03) scale(1.0000 1.0200)" font-size="11.53">0.10,</text>
<text transform="translate(346.96 100.50) rotate(0.03) scale(1.0026 1.0200)" font-size="11.53">γ</text>
<text transform="translate(352.24 100.83) rotate(0.03) scale(1.0000 0.8540)" font-size="11.53" stroke="#000" stroke-width="0.3">=</text>
<text transform="translate(358.97 100.50) rotate(0.03) scale(1.0000 1.0200)" font-size="11.53" letter-spacing="-0.285">0.40</text>
<text transform="translate(303.51 114.33) rotate(0.03) scale(1.2140 0.9800)" font-size="11.53" stroke="none">α</text>
<text transform="translate(311.14 114.66) rotate(0.03) scale(1.0000 0.8540)" font-size="11.53" stroke="#000" stroke-width="0.3">=</text>
<text transform="translate(317.87 114.33) rotate(0.03) scale(1.0000 1.0200)" font-size="11.53">0.10,</text>
<text transform="translate(346.96 114.33) rotate(0.03) scale(1.0026 1.0200)" font-size="11.53">γ</text>
<text transform="translate(352.24 114.66) rotate(0.03) scale(1.0000 0.8540)" font-size="11.53" stroke="#000" stroke-width="0.3">=</text>
<text transform="translate(358.97 114.33) rotate(0.03) scale(1.0000 1.0200)" font-size="11.53" letter-spacing="-0.285">0.60</text>
<text transform="translate(303.51 128.17) rotate(0.03) scale(1.2140 0.9800)" font-size="11.53" stroke="none">α</text>
<text transform="translate(311.14 128.50) rotate(0.03) scale(1.0000 0.8540)" font-size="11.53" stroke="#000" stroke-width="0.3">=</text>
<text transform="translate(317.87 128.17) rotate(0.03) scale(1.0000 1.0200)" font-size="11.53">0.35,</text>
<text transform="translate(346.96 128.17) rotate(0.03) scale(1.0026 1.0200)" font-size="11.53">γ</text>
<text transform="translate(352.24 128.50) rotate(0.03) scale(1.0000 0.8540)" font-size="11.53" stroke="#000" stroke-width="0.3">=</text>
<text transform="translate(358.97 128.17) rotate(0.03) scale(1.0000 1.0200)" font-size="11.53" letter-spacing="-0.274">0.35</text>
<text transform="translate(303.51 142.00) rotate(0.03) scale(1.2140 0.9800)" font-size="11.53" stroke="none">α</text>
<text transform="translate(311.14 142.33) rotate(0.03) scale(1.0000 0.8540)" font-size="11.53" stroke="#000" stroke-width="0.3">=</text>
<text transform="translate(317.87 142.00) rotate(0.03) scale(1.0000 1.0200)" font-size="11.53">0.50,</text>
<text transform="translate(346.96 142.00) rotate(0.03) scale(1.0026 1.0200)" font-size="11.53">γ</text>
<text transform="translate(352.24 142.33) rotate(0.03) scale(1.0000 0.8540)" font-size="11.53" stroke="#000" stroke-width="0.3">=</text>
<text transform="translate(358.97 142.00) rotate(0.03) scale(1.0000 1.0200)" font-size="11.53" letter-spacing="-0.285">0.30</text>
<text transform="translate(63.74 369.50) rotate(0.03) scale(1 1.03)" font-size="11.53" text-anchor="middle">0</text>
<text transform="translate(115.38 369.50) rotate(0.03) scale(1 1.03)" font-size="11.53" text-anchor="middle">1</text>
<text transform="translate(167.02 369.50) rotate(0.03) scale(1 1.03)" font-size="11.53" text-anchor="middle">2</text>
<text transform="translate(218.66 369.50) rotate(0.03) scale(1 1.03)" font-size="11.53" text-anchor="middle">3</text>
<text transform="translate(270.30 369.50) rotate(0.03) scale(1 1.03)" font-size="11.53" text-anchor="middle">4</text>
<text transform="translate(321.94 369.50) rotate(0.03) scale(1 1.03)" font-size="11.53" text-anchor="middle">5</text>
<text transform="translate(373.58 369.50) rotate(0.03) scale(1 1.03)" font-size="11.53" text-anchor="middle">6</text>
<text transform="translate(40.00 333.57) rotate(-89.97) scale(1 1.03)" font-size="11.53" text-anchor="middle">0.0</text>
<text transform="translate(40.00 274.57) rotate(-89.97) scale(1 1.03)" font-size="11.53" text-anchor="middle">0.2</text>
<text transform="translate(40.00 215.57) rotate(-89.97) scale(1 1.03)" font-size="11.53" text-anchor="middle">0.4</text>
<text transform="translate(40.00 156.57) rotate(-89.97) scale(1 1.03)" font-size="11.53" text-anchor="middle">0.6</text>
<text transform="translate(40.00 97.57) rotate(-89.97) scale(1 1.03)" font-size="11.53" text-anchor="middle">0.8</text>
<text transform="translate(219.61 397.20) rotate(0.03) scale(1.0000 1.0000)" font-size="11.53">r</text>
<text transform="translate(12.50 258.70) rotate(-89.97) scale(1.0000 1.0350)" font-size="11.53" word-spacing="-0.120">Density of R=O/I^a at r</text>
<text transform="translate(124.31 31.45) rotate(0.03) scale(0.9600 1.0350)" font-size="13.83">Density of R at r for</text>
<text transform="translate(243.08 31.45) rotate(0.03) scale(1.0687 0.9800)" font-size="13.83" stroke="#fff" stroke-width="0.14">α</text>
<text transform="translate(251.35 34.15) rotate(0.03) scale(1.0000 1.0000)" font-size="9.68">in</text>
<text transform="translate(258.57 31.84) rotate(0.03) scale(1.0000 0.8540)" font-size="13.83" stroke="#000" stroke-width="0.3">=</text>
<text transform="translate(266.65 31.45) rotate(0.03) scale(1.0000 1.0200)" font-size="13.83">5,</text>
<text transform="translate(281.88 31.45) rotate(0.03) scale(1.0687 0.9800)" font-size="13.83" stroke="#fff" stroke-width="0.14">α</text>
<text transform="translate(290.39 34.15) rotate(0.03) scale(1.0000 1.0000)" font-size="9.68">out</text>
<text transform="translate(303.92 31.84) rotate(0.03) scale(1.0000 0.8540)" font-size="13.83" stroke="#000" stroke-width="0.3">=</text>
<text transform="translate(312.00 31.45) rotate(0.03) scale(1.0000 1.0200)" font-size="13.83">7</text>
</g>
</svg>
</body></html>
